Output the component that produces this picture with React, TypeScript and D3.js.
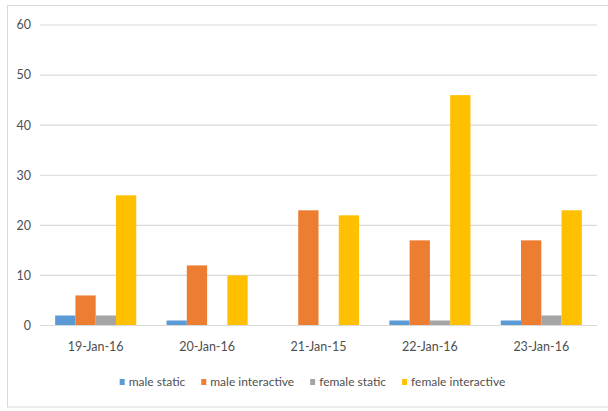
import React from "react";
import * as d3 from "d3";

const categories = ["19-Jan-16", "20-Jan-16", "21-Jan-15", "22-Jan-16", "23-Jan-16"];
const seriesNames = ["male static", "male interactive", "female static", "female interactive"];
const maleStatic = [2, 1, 0, 1, 1];
const maleInteractive = [6, 12, 23, 17, 17];
const femaleStatic = [2, 0, 0, 1, 2];
const femaleInteractive = [26, 10, 22, 46, 23];
const yTicks = [0, 10, 20, 30, 40, 50, 60];
const colors = ["#5B9BD5", "#ED7D31", "#A5A5A5", "#FFC000"];

const seriesValues = [maleStatic, maleInteractive, femaleStatic, femaleInteractive];

const W = 608;
const H = 411;
const FONT = "Lato, 'Open Sans', sans-serif";

function textWidth(text: string, size: number): number {
  const c = document.createElement("canvas").getContext("2d");
  if (!c) return text.length * size * 0.5;
  c.font = `${size}px Lato`;
  return c.measureText(text).width;
}

export default function App() {
  const plotLeft = 40;
  const plotRight = 597;
  const plotTop = 25;
  const plotBottom = 325.5;

  const x = d3.scaleBand<string>().domain(categories).range([plotLeft, plotRight]);
  const inner = d3
    .scaleBand<string>()
    .domain(seriesNames)
    .range([0, x.bandwidth() * 0.728]);
  const groupOffset = (x.bandwidth() - x.bandwidth() * 0.728) / 2;
  const y = d3.scaleLinear().domain([0, 60]).range([plotBottom, plotTop]);

  // legend layout
  const legendSize = 12;
  const swatch = 5;
  const swGap = 4;
  const itemGap = 16;
  const widths = seriesNames.map((n) => textWidth(n, legendSize));
  const total = widths.reduce((a, w) => a + swatch + swGap + w, 0) + itemGap * (seriesNames.length - 1);
  let lx = (plotLeft + plotRight) / 2 - total / 2 - 6;
  const legendItems = seriesNames.map((n, i) => {
    const item = { name: n, x: lx, color: colors[i] };
    lx += swatch + swGap + widths[i] + itemGap;
    return item;
  });
  const legendY = 382;

  return (
    <svg
      width={W}
      height={H}
      style={{ position: "absolute", left: 0, top: 0, background: "#fff" }}
      fontFamily={FONT}
    >
      <rect x={7.5} y={5.5} width={W + 10} height={401.5} fill="#fff" stroke="#d9d9d9" strokeWidth={1} />
      {yTicks.map((t) => (
        <g key={t}>
          <line x1={plotLeft} x2={plotRight} y1={y(t)} y2={y(t)} stroke="#d9d9d9" strokeWidth={1.2} />
          <text x={31} y={y(t)} dy="0.35em" textAnchor="end" fontSize={12.5} fill="#505050">
            {t}
          </text>
        </g>
      ))}
      {categories.map((c, ci) => (
        <g key={c} transform={`translate(${x(c)! + groupOffset},0)`}>
          {seriesNames.map((s, si) => {
            const v = seriesValues[si][ci];
            return (
              <rect
                key={s}
                x={inner(s)!}
                y={y(v)}
                width={inner.bandwidth()}
                height={plotBottom - y(v)}
                fill={colors[si]}
              />
            );
          })}
        </g>
      ))}
      <line x1={plotLeft} x2={plotRight} y1={plotBottom} y2={plotBottom} stroke="#d9d9d9" strokeWidth={1.2} />
      {categories.map((c) => (
        <text
          key={c}
          x={x(c)! + x.bandwidth() / 2}
          y={347}
          dy="0.35em"
          textAnchor="middle"
          fontSize={12.5}
          fill="#505050"
        >
          {c}
        </text>
      ))}
      {legendItems.map((it) => (
        <g key={it.name}>
          <rect x={it.x} y={legendY - swatch / 2 - 0.5} width={swatch} height={swatch + 1} fill={it.color} />
          <text x={it.x + swatch + swGap} y={legendY} dy="0.35em" fontSize={legendSize} fill="#505050">
            {it.name}
          </text>
        </g>
      ))}
    </svg>
  );
}
